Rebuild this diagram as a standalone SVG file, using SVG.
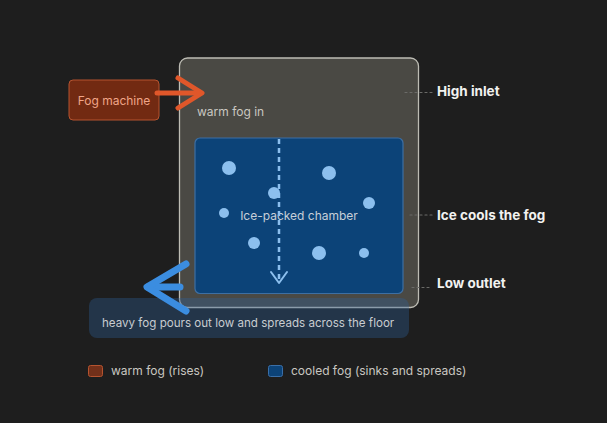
<svg xmlns="http://www.w3.org/2000/svg" width="607" height="423" viewBox="0 0 607 423">
<style>
.t{font-family:Inter,"Noto Sans","Liberation Sans",sans-serif;}
.lbl{font-size:12px;fill:#c9c7c1;}
.side{font-size:13.5px;font-weight:700;fill:#f2f2f0;}
.lead{stroke:#6b6b68;stroke-width:1.2;stroke-dasharray:2 3;fill:none;}
.dot{fill:#8cbfee;}
</style>
<rect width="607" height="423" fill="#1e1e1e"/>
<g id="outer-box">
<rect x="179.5" y="58" width="239" height="249.5" rx="8" fill="#4a4944" stroke="#bdbcb4" stroke-width="1.3"/>
<text class="t lbl" x="197" y="116">warm fog in</text>
</g>
<g id="chamber">
<rect x="195" y="138" width="208" height="155.5" rx="5" fill="#0c4378" stroke="#3d6fa3" stroke-width="1.2"/>
<circle class="dot" cx="229" cy="168" r="7"/>
<circle class="dot" cx="329" cy="173" r="7"/>
<circle class="dot" cx="274" cy="193" r="6"/>
<circle class="dot" cx="369" cy="203" r="6"/>
<circle class="dot" cx="224" cy="213" r="5"/>
<circle class="dot" cx="254" cy="243" r="6"/>
<circle class="dot" cx="319" cy="253" r="7"/>
<circle class="dot" cx="364" cy="253" r="5"/>
<text class="t" x="299" y="220" font-size="12" fill="#c7cfd8" text-anchor="middle">Ice-packed chamber</text>
</g>
<g id="fog-machine">
<rect x="69" y="80" width="90" height="40" rx="4" fill="#722a12" stroke="#b5532f" stroke-width="1"/>
<text class="t" x="114" y="104.5" font-size="12" fill="#f0a588" text-anchor="middle">Fog machine</text>
</g>
<g id="label-box">
<rect x="89" y="298" width="320" height="40" rx="8" fill="#2f629c" fill-opacity="0.35"/>
<text class="t" x="102" y="327" font-size="11.6" fill="#c8ccd0">heavy fog pours out low and spreads across the floor</text>
</g>
<g id="connectors" fill="none" stroke-linecap="round" stroke-linejoin="round">
<path d="M157 93 H201" stroke="#e0572a" stroke-width="5"/>
<path d="M178 78 L202 93 L178 108" stroke="#e0572a" stroke-width="5"/>
<path d="M279 139 V280" stroke="#8cbfee" stroke-width="2.5" stroke-dasharray="5 4" stroke-linecap="butt"/>
<path d="M271 272 L279 283 L287 272" stroke="#8cbfee" stroke-width="2"/>
<path d="M180 287 H148" stroke="#3b8de0" stroke-width="7"/>
<path d="M186 264 L147 287 L186 311" stroke="#3b8de0" stroke-width="7"/>
<path class="lead" d="M405 92.5 H432"/>
<path class="lead" d="M410 215 H432"/>
<path class="lead" d="M412 287.5 H432"/>
</g>
<g id="side-labels">
<text class="t side" x="437" y="96">High inlet</text>
<text class="t side" x="437" y="220">Ice cools the fog</text>
<text class="t side" x="437" y="288">Low outlet</text>
</g>
<g id="legend">
<rect x="88.5" y="365.5" width="14" height="11" rx="2" fill="#72301a" stroke="#b5532f" stroke-width="1"/>
<text class="t lbl" x="111" y="375">warm fog (rises)</text>
<rect x="268.5" y="365.5" width="14" height="11" rx="2" fill="#0c4378" stroke="#3a6fa8" stroke-width="1"/>
<text class="t lbl" x="291" y="375" font-size="11.8">cooled fog (sinks and spreads)</text>
</g>
</svg>
